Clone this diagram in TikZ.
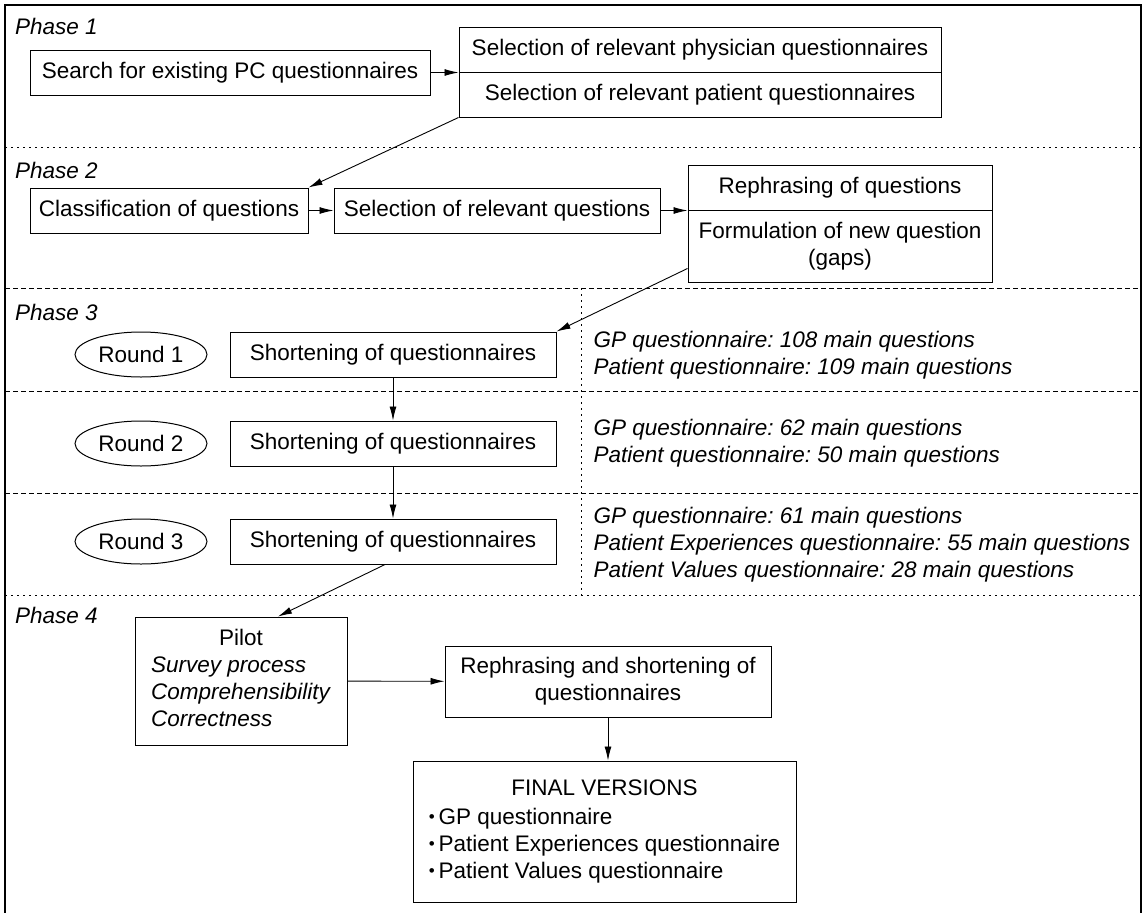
\documentclass[tikz,border=0pt]{standalone}
\usepackage{fontspec}
\setmainfont{Liberation Sans}
\usetikzlibrary{arrows.meta,shapes.geometric}
\frenchspacing

\newcommand{\itembullet}{{\fontsize{17}{17}\selectfont\raisebox{1.5pt}{•}}\,}

\begin{document}
\begin{tikzpicture}[x=1pt,y=-1pt,
  every node/.style={font=\fontsize{22.5}{27}\selectfont},
  box/.style={draw,line width=1pt,inner sep=0pt,minimum height=45pt,align=center},
  roundoval/.style={draw,ellipse,line width=1pt,inner sep=0pt,minimum width=132pt,minimum height=45pt},
  counts/.style={anchor=west,align=left,font=\fontsize{22.5}{27}\selectfont\itshape},
  phaselabel/.style={anchor=west,inner sep=0pt,font=\fontsize{22.5}{27}\selectfont\itshape},
  arr/.style={line width=0.9pt,-{Latex[length=14pt,width=7pt]}},
  dotline/.style={line width=1pt,dash pattern=on 1.5pt off 4.5pt},
  dashline/.style={line width=1pt,dash pattern=on 5pt off 3pt}]

\useasboundingbox (0,0) rectangle (1146,913);

% Frame
\draw[line width=2pt] (5,913) -- (5,5) -- (1141,5) -- (1141,913);

% Phase borders
\draw[dotline] (5,147) -- (1141,147);
\draw[dashline] (5,288) -- (1141,288);
\draw[dashline] (5,391) -- (1141,391);
\draw[dashline] (5,493) -- (1141,493);
\draw[dotline] (5,595) -- (1141,595);
\draw[dotline] (581,288) -- (581,595);

% Phase 1
\node[phaselabel] (ph1) at (15,26) {Phase 1};
\node[box,minimum width=400pt] (search) at (230,72.5) {Search for existing PC questionnaires};
\node[box,minimum width=482pt] (selphys) at (700,49.5) {Selection of relevant physician questionnaires};
\node[box,minimum width=482pt] (selpat) at (700,94.5) {Selection of relevant patient questionnaires};

% Phase 2
\node[phaselabel] (ph2) at (15,170) {Phase 2};
\node[box,minimum width=278pt] (classif) at (169,210.5) {Classification of questions};
\node[box,minimum width=326pt] (selq) at (497,210.5) {Selection of relevant questions};
\node[box,minimum width=304pt] (rephq) at (840,187.5) {Rephrasing of questions};
\node[box,minimum width=304pt,minimum height=72pt] (formq) at (840,246) {Formulation of new question\\(gaps)};

% Phase 3
\node[phaselabel] (ph3) at (15,312) {Phase 3};
\node[roundoval] (round1) at (141,354.5) {Round 1};
\node[roundoval] (round2) at (141,443.5) {Round 2};
\node[roundoval] (round3) at (141,541.5) {Round 3};
\node[box,minimum width=326pt] (short1) at (393,354.5) {Shortening of questionnaires};
\node[box,minimum width=326pt] (short2) at (393,443.5) {Shortening of questionnaires};
\node[box,minimum width=326pt] (short3) at (393,541.5) {Shortening of questionnaires};
\node[counts] (count1) at (590,355) {GP questionnaire: 108 main questions\\Patient questionnaire: 109 main questions};
\node[counts] (count2) at (590,443.5) {GP questionnaire: 62 main questions\\Patient questionnaire: 50 main questions};
\node[counts] (count3) at (590,545) {GP questionnaire: 61 main questions\\Patient Experiences questionnaire: 55 main questions\\Patient Values questionnaire: 28 main questions};

% Phase 4
\node[phaselabel] (ph4) at (15,615) {Phase 4};
\node[box,minimum width=212pt,minimum height=128pt] (pilot) at (241,681)
  {\begin{tabular}{@{}l@{}}\multicolumn{1}{@{}c@{}}{Pilot}\\
   \textit{Survey process}\\ \textit{Comprehensibility}\\ \textit{Correctness}\end{tabular}};
\node[box,minimum width=326pt,minimum height=71pt] (rephshort) at (608,681.5) {Rephrasing and shortening of\\questionnaires};
\node[box,minimum width=383pt,minimum height=141pt] (final) at (604.5,831.5)
  {\begin{tabular}{@{}l@{}}\multicolumn{1}{@{}c@{}}{FINAL VERSIONS}\\[2pt]
   \itembullet GP questionnaire\\
   \itembullet Patient Experiences questionnaire\\
   \itembullet Patient Values questionnaire\end{tabular}};

% Arrows
\draw[arr] (search.east) -- (selphys.south west);
\draw[arr] (selpat.south west) -- (classif.north east);
\draw[arr] (classif) -- (selq);
\draw[arr] (selq.east) -- (rephq.south west);
\draw[arr] ([yshift=14pt]formq.south west) -- (short1.north east);
\draw[arr] (short1) -- (short2);
\draw[arr] (short2) -- (short3);
\draw[arr] ([xshift=-8pt]short3.south) -- ([xshift=37pt]pilot.north);
\draw[arr] (pilot) -- (rephshort);
\draw[arr] (rephshort.south) -- (rephshort.south |- final.north);

\end{tikzpicture}
\end{document}
